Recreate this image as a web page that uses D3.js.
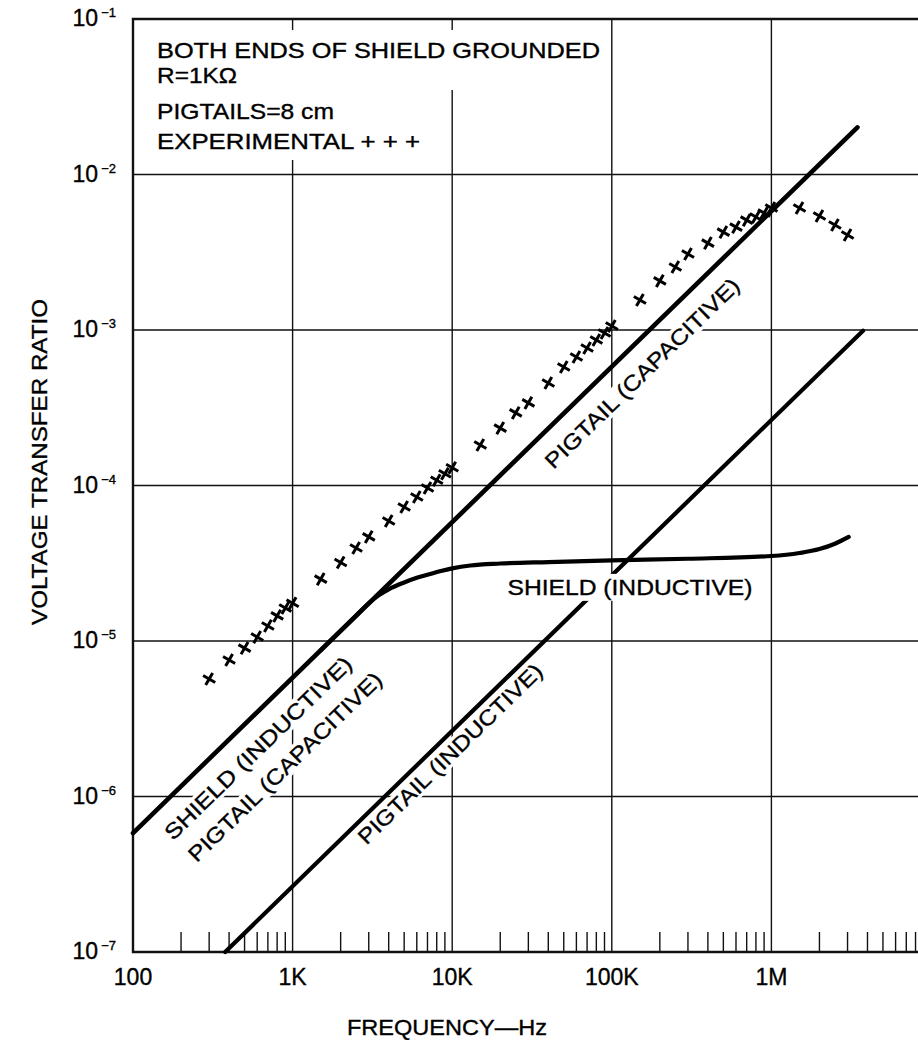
<!DOCTYPE html>
<html>
<head>
<meta charset="utf-8">
<script src="https://cdn.jsdelivr.net/npm/d3@7"></script>
<style>
body { margin: 0; background: #fff; }
svg { display: block; font-family: "Liberation Sans", Arial, Helvetica, sans-serif; }
svg text { fill: #000; stroke: #000; stroke-width: 0.35px; }
</style>
</head>
<body>
<div id="chart"></div>
<script>
// experimental points (+ + +)
var expFreq = [300, 400, 500, 600, 700, 800, 900, 1000,
    1500, 2000, 2500, 3000, 4000, 5000, 6000, 7000, 8000, 9000, 10000,
    15000, 20000, 25000, 30000, 40000, 50000, 60000, 70000, 80000, 90000, 100000,
    150000, 200000, 250000, 300000, 400000, 500000, 600000, 700000, 800000, 900000, 1000000,
    1500000, 2000000, 2500000, 3000000];
var expRatio = [5.7e-6, 7.55e-6, 9.0e-6, 1.06e-5, 1.25e-5, 1.45e-5, 1.63e-5, 1.75e-5,
    2.5e-5, 3.2e-5, 3.96e-5, 4.67e-5, 5.91e-5, 7.28e-5, 8.44e-5, 9.64e-5, 1.08e-4, 1.19e-4, 1.30e-4,
    1.82e-4, 2.34e-4, 2.93e-4, 3.40e-4, 4.56e-4, 5.78e-4, 6.7e-4, 7.66e-4, 8.62e-4, 9.57e-4, 1.06e-3,
    1.56e-3, 2.07e-3, 2.54e-3, 3.08e-3, 3.62e-3, 4.26e-3, 4.59e-3, 5.09e-3, 5.33e-3, 5.65e-3, 6.09e-3,
    6.09e-3, 5.41e-3, 4.73e-3, 4.08e-3];

// shield (inductive) / pigtail (capacitive) straight line
var mainFreq = [100, 3.46e6];
var mainRatio = [5.82e-7, 2.01e-2];

// pigtail (inductive)
var pigIndFreq = [378, 3.75e6];
var pigIndRatio = [1e-7, 9.9e-4];

// shield (inductive) curve
var shieldFreq = [1500, 2000, 2500, 3000, 3500, 4000, 5000, 6000, 7000, 8500, 10000, 13000,
    20000, 40000, 100000, 300000, 1000000, 1500000, 2000000, 2500000, 3050000];
var shieldRatio = [8.73e-6, 1.164e-5, 1.455e-5, 1.75e-5, 1.98e-5, 2.15e-5, 2.38e-5, 2.55e-5, 2.67e-5, 2.82e-5, 2.93e-5, 3.06e-5,
    3.15e-5, 3.22e-5, 3.3e-5, 3.38e-5, 3.52e-5, 3.68e-5, 3.9e-5, 4.22e-5, 4.67e-5];

var xTickVals = [100, 1e3, 1e4, 1e5, 1e6];
var xTickLabels = ["100", "1K", "10K", "100K", "1M"];
var yTickVals = [1e-1, 1e-2, 1e-3, 1e-4, 1e-5, 1e-6, 1e-7];
var yTickExp = ["\u22121", "\u22122", "\u22123", "\u22124", "\u22125", "\u22126", "\u22127"];

var w = 918, h = 1040;
var padL = 133, padR = 931, padT = 19, padB = 952;

var x = d3.scaleLog().domain([100, 1e7]).range([padL, padR]);
var y = d3.scaleLog().domain([1e-7, 1e-1]).range([padB, padT]);

var svg = d3.select("#chart")
    .append("svg")
    .attr("width", w)
    .attr("height", h);

// grid
svg.selectAll("line.vgrid")
    .data([1e3, 1e4, 1e5, 1e6])
    .enter()
    .append("line")
    .attr("class", "vgrid")
    .attr("x1", function(d) { return x(d); })
    .attr("x2", function(d) { return x(d); })
    .attr("y1", padT)
    .attr("y2", padB)
    .attr("stroke", "#111")
    .attr("stroke-width", 1.4);

svg.selectAll("line.hgrid")
    .data([1e-2, 1e-3, 1e-4, 1e-5, 1e-6])
    .enter()
    .append("line")
    .attr("class", "hgrid")
    .attr("x1", padL)
    .attr("x2", padR)
    .attr("y1", function(d) { return y(d); })
    .attr("y2", function(d) { return y(d); })
    .attr("stroke", "#111")
    .attr("stroke-width", 1.4);

// minor ticks along the bottom
var minor = [];
[100, 1e3, 1e4, 1e5, 1e6].forEach(function(dec) {
    for (var k = 2; k <= 9; k++) minor.push(k * dec);
});
svg.selectAll("line.minor")
    .data(minor)
    .enter()
    .append("line")
    .attr("class", "minor")
    .attr("x1", function(d) { return x(d); })
    .attr("x2", function(d) { return x(d); })
    .attr("y1", padB)
    .attr("y2", padB - 20)
    .attr("stroke", "#111")
    .attr("stroke-width", 1.4);

// white box behind the note text
svg.append("rect").attr("x", padL + 12).attr("y", padT + 11).attr("width", 460).attr("height", 60).attr("fill", "#fff");
svg.append("rect").attr("x", padL + 12).attr("y", padT + 70).attr("width", 285).attr("height", 71).attr("fill", "#fff");

// frame
svg.append("path")
    .attr("d", "M" + padR + "," + padT + "H" + padL + "V" + padB + "H" + padR)
    .attr("fill", "none")
    .attr("stroke", "#111")
    .attr("stroke-width", 2.4);

// rotated labels along the lines
var ang = -Math.atan((y(1e-5) - y(1e-4)) / (x(1e4) - x(1e3))) * 180 / Math.PI;
var slantLabels = [
    {t: "SHIELD (INDUCTIVE)", f: 608, v: 2.05e-6, len: 252},
    {t: "PIGTAIL (CAPACITIVE)", f: 897, v: 1.55e-6, len: 261},
    {t: "PIGTAIL (CAPACITIVE)", f: 155000, v: 5.28e-4, len: 262},
    {t: "PIGTAIL (INDUCTIVE)", f: 9700, v: 1.88e-6, len: 248}
];

svg.selectAll("rect.slantbg")
    .data(slantLabels)
    .enter()
    .append("rect")
    .attr("class", "slantbg")
    .attr("transform", function(d) { return "translate(" + x(d.f) + "," + y(d.v) + ") rotate(" + ang + ")"; })
    .attr("x", function(d) { return -d.len / 2 - 3; })
    .attr("y", -11)
    .attr("width", function(d) { return d.len + 6; })
    .attr("height", 22)
    .attr("fill", "#fff");

var line = d3.line()
    .x(function(d) { return x(d[0]); })
    .y(function(d) { return y(d[1]); });

svg.append("path")
    .attr("d", line(d3.zip(mainFreq, mainRatio)))
    .attr("fill", "none")
    .attr("stroke", "#000")
    .attr("stroke-width", 4.6)
    .attr("stroke-linecap", "round");

svg.append("path")
    .attr("d", line(d3.zip(pigIndFreq, pigIndRatio)))
    .attr("fill", "none")
    .attr("stroke", "#000")
    .attr("stroke-width", 4.2)
    .attr("stroke-linecap", "round");

svg.append("path")
    .attr("d", line.curve(d3.curveMonotoneX)(d3.zip(shieldFreq, shieldRatio)))
    .attr("fill", "none")
    .attr("stroke", "#000")
    .attr("stroke-width", 4.2)
    .attr("stroke-linecap", "round");

// experimental crosses
svg.selectAll("path.exp")
    .data(d3.zip(expFreq, expRatio))
    .enter()
    .append("path")
    .attr("class", "exp")
    .attr("transform", function(d) { return "translate(" + x(d[0]) + "," + y(d[1]) + ") rotate(30)"; })
    .attr("d", "M-7,0H7M0,-7V7")
    .attr("stroke", "#000")
    .attr("stroke-width", 3);

svg.selectAll("text.slant")
    .data(slantLabels)
    .enter()
    .append("text")
    .attr("class", "slant")
    .attr("transform", function(d) { return "translate(" + x(d.f) + "," + y(d.v) + ") rotate(" + ang + ")"; })
    .attr("text-anchor", "middle")
    .attr("dy", "0.35em")
    .attr("font-size", 21.5)
    .attr("textLength", function(d) { return d.len; })
    .attr("lengthAdjust", "spacingAndGlyphs")
    .text(function(d) { return d.t; });

// horizontal shield label, blanks the pigtail line behind it
var shx = x(130000), shy = y(1.98e-5);
svg.append("rect")
    .attr("x", shx - 126).attr("y", shy - 21)
    .attr("width", 252).attr("height", 27)
    .attr("fill", "#fff");
svg.append("text")
    .attr("x", shx).attr("y", shy)
    .attr("text-anchor", "middle")
    .attr("font-size", 21.5)
    .attr("textLength", 245)
    .attr("lengthAdjust", "spacingAndGlyphs")
    .text("SHIELD (INDUCTIVE)");

// note block
var notes = [
    {t: "BOTH ENDS OF SHIELD GROUNDED", dy: 39, len: 443},
    {t: "R=1K\u03a9", dy: 64, len: 80},
    {t: "PIGTAILS=8 cm", dy: 100, len: 177},
    {t: "EXPERIMENTAL  + + +", dy: 130, len: 263}
];
svg.selectAll("text.note")
    .data(notes)
    .enter()
    .append("text")
    .attr("class", "note")
    .attr("x", padL + 24)
    .attr("y", function(d) { return padT + d.dy; })
    .attr("font-size", 21.5)
    .attr("textLength", function(d) { return d.len; })
    .attr("lengthAdjust", "spacingAndGlyphs")
    .text(function(d) { return d.t; });

// axis labels
svg.selectAll("text.xtick")
    .data(xTickVals)
    .enter()
    .append("text")
    .attr("class", "xtick")
    .attr("x", function(d) { return x(d); })
    .attr("y", 985)
    .attr("text-anchor", "middle")
    .attr("font-size", 23)
    .text(function(d, i) { return xTickLabels[i]; });

var yt = svg.selectAll("text.ytick")
    .data(yTickVals)
    .enter()
    .append("text")
    .attr("class", "ytick")
    .attr("x", padL - 17)
    .attr("y", function(d) { return y(d) + 7; })
    .attr("text-anchor", "end")
    .attr("font-size", 23);
yt.append("tspan").text("10");
yt.append("tspan")
    .attr("dx", 3)
    .attr("dy", -9)
    .attr("font-size", 13)
    .text(function(d, i) { return yTickExp[i]; });

svg.append("text")
    .attr("x", 447)
    .attr("y", 1035)
    .attr("text-anchor", "middle")
    .attr("font-size", 22)
    .attr("textLength", 200)
    .attr("lengthAdjust", "spacingAndGlyphs")
    .text("FREQUENCY\u2014Hz");

svg.append("text")
    .attr("transform", "translate(47,462) rotate(-90)")
    .attr("text-anchor", "middle")
    .attr("font-size", 22)
    .attr("textLength", 326)
    .attr("lengthAdjust", "spacingAndGlyphs")
    .text("VOLTAGE TRANSFER RATIO");
</script>
</body>
</html>
